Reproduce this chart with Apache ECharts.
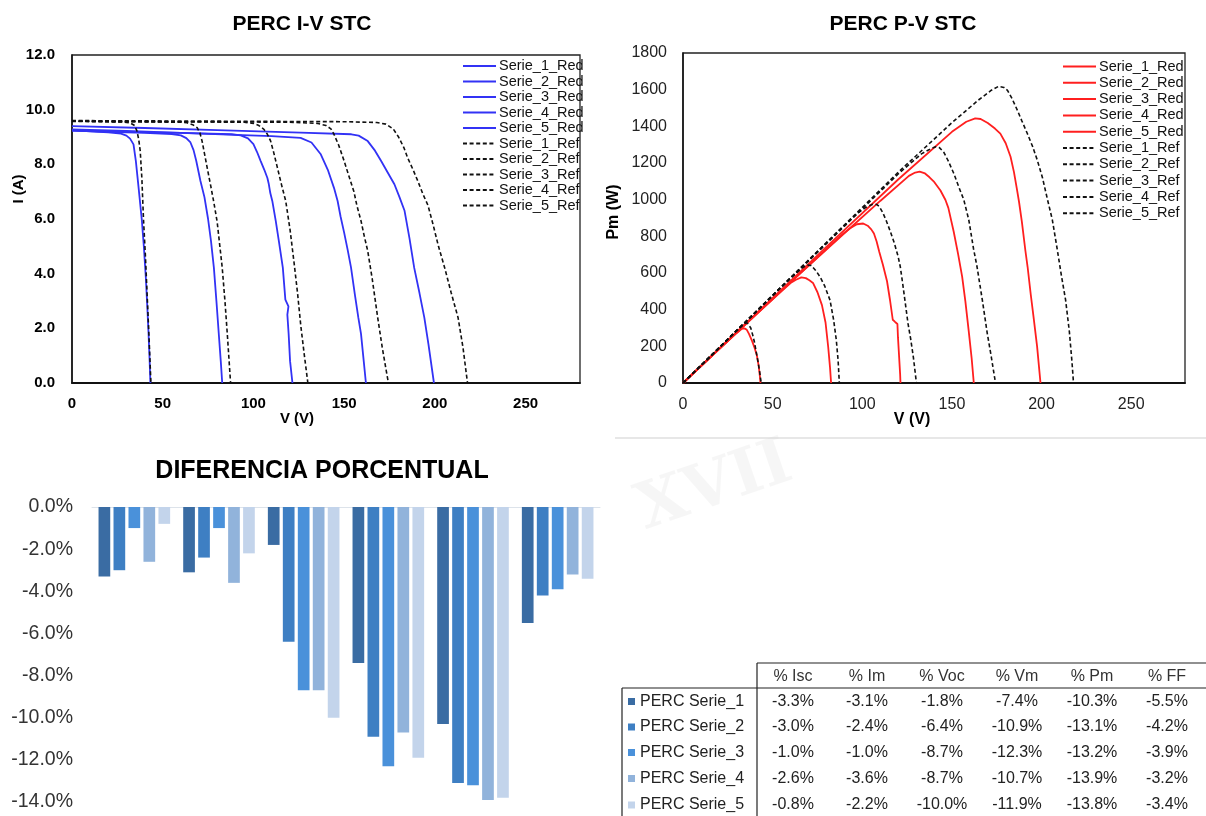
<!DOCTYPE html>
<html>
<head>
<meta charset="utf-8">
<script src="https://cdn.jsdelivr.net/npm/echarts@6/dist/echarts.min.js"></script>
<style>
  html, body { margin: 0; padding: 0; background: #fff; }
  #chart { width: 1206px; height: 816px; }
</style>
</head>
<body>
<div id="chart"></div>
<script>
// ---- I-V curves, points as [voltage (V), current (A)] ----
const ivRed1 = [[0,9.25],[10,9.21],[20,9.17],[27,9.12],[30,9.05],[32,8.94],[33.9,8.73],[35.2,8.12],[36.7,7.15],[38.5,5.95],[39.6,5.0],[40.7,3.85],[41.5,2.8],[42.2,1.8],[42.8,0.8],[43.2,0]];
const ivRed2 = [[0,9.23],[20,9.19],[40,9.15],[55,9.11],[60,9.06],[63,8.96],[65.3,8.8],[67,8.52],[68.5,8.12],[70.8,7.39],[73,6.8],[75,6.0],[76.6,5.2],[78.2,4.22],[79.6,3.0],[80.9,1.8],[82,0.8],[82.8,0]];
const ivRed3 = [[0,9.23],[30,9.19],[60,9.15],[88,9.1],[93,9.06],[97,8.95],[100,8.74],[102,8.45],[104,8.12],[106,7.8],[107.7,7.5],[108.4,7.3],[109.3,6.95],[110.4,6.66],[112.3,5.93],[114,5.2],[116.2,4.22],[117.6,3.05],[119.3,2.8],[118.7,2.5],[119.4,1.8],[120.2,0.8],[121.5,0]];
const ivRed4 = [[0,9.28],[30,9.22],[60,9.15],[90,9.08],[110,9.03],[126,8.97],[132,8.8],[137,8.38],[141,7.8],[144.4,7.14],[146.4,6.66],[148,6.1],[150,5.5],[152,4.85],[153.8,4.22],[156,3.2],[157.8,2.4],[159.3,1.8],[160.8,0.8],[162,0]];
const ivRed5 = [[0,9.4],[40,9.33],[80,9.25],[126,9.16],[154,9.1],[158,9.05],[163,8.85],[167,8.5],[170.4,8.12],[174,7.7],[177.7,7.27],[180.5,6.8],[183.3,6.3],[186,5.3],[188.6,4.22],[191.5,3.3],[194.2,2.39],[196.5,1.4],[199.5,0]];
const ivRef1 = [[0,9.57],[15,9.56],[28,9.55],[32,9.52],[34.5,9.42],[35.8,9.22],[36.8,8.9],[37.6,8.49],[38.5,7.5],[39.4,6.0],[40.5,4.6],[41.5,3.1],[42.5,1.6],[43.5,0]];
const ivRef2 = [[0,9.58],[30,9.56],[60,9.54],[63.4,9.52],[66.5,9.45],[69,9.34],[70.5,9.15],[71.7,8.85],[73,8.4],[74.5,7.88],[76.5,7.2],[78.2,6.6],[80,5.9],[81.5,5.0],[82.8,4.22],[84.3,3.0],[85.6,1.79],[86.6,0.8],[87.4,0]];
const ivRef3 = [[0,9.58],[50,9.56],[95,9.54],[100,9.5],[103,9.42],[105.8,9.28],[107.7,9.1],[109.5,8.85],[111.3,8.4],[113.2,7.88],[115.5,7.25],[117.8,6.66],[120.2,5.6],[122.4,4.4],[124.3,3.3],[126.1,2.1],[128,1.05],[130,0]];
const ivRef4 = [[0,9.58],[60,9.56],[120,9.54],[135,9.5],[140,9.42],[142.7,9.3],[144.4,9.1],[147,8.7],[150,8.12],[152.5,7.6],[155.4,7.0],[157,6.5],[159.3,5.93],[161,5.4],[163,4.83],[165.5,3.8],[168.5,2.39],[171,1.3],[174.4,0]];
const ivRef5 = [[0,9.6],[80,9.58],[150,9.56],[168,9.53],[173,9.47],[177,9.3],[180,9.0],[183,8.6],[185,8.24],[188,7.8],[190.6,7.39],[193.5,6.9],[196.2,6.5],[199,5.8],[202,5.0],[205.4,4.22],[209,3.3],[212.8,2.39],[215.5,1.3],[218,0]];

// ---- P-V curves, points as [voltage (V), power (W)] ----
const pvRed1 = [[0,0],[10,92],[20,184],[30,273],[32.8,295],[34.3,298],[35.6,290],[36.8,268],[38.5,230],[40,190],[41.2,150],[42.2,95],[42.9,35],[43.2,0]];
const pvRed2 = [[0,0],[20,184],[40,366],[55,502],[60,545],[63,563],[66,576],[68.5,572],[70.5,560],[72.5,546],[75,495],[77.5,425],[79.5,330],[81,195],[82,85],[82.6,0]];
const pvRed3 = [[0,0],[30,276],[60,549],[88,803],[93,843],[97,866],[100.5,870],[103,858],[105,838],[106.5,815],[108,772],[109.5,715],[111.5,645],[113.8,555],[115.5,450],[117,345],[118.3,333],[119.6,322],[119.9,250],[120.5,150],[121.1,50],[121.3,0]];
const pvRed4 = [[0,0],[30,277],[60,550],[90,817],[110,993],[126,1130],[129.5,1148],[132,1153],[135,1143],[137.5,1122],[139.8,1100],[143.6,1050],[146.4,998],[148,955],[151,825],[153.5,700],[155.7,580],[157.5,445],[159.4,280],[161,135],[162.2,0]];
const pvRed5 = [[0,0],[40,372],[80,742],[120,1110],[150,1370],[158,1425],[163,1443],[166,1440],[170,1418],[174,1388],[177,1360],[180,1308],[182.7,1234],[184.6,1150],[186.2,1060],[187.4,990],[189,880],[191,720],[192.2,634],[194,480],[195.5,362],[197.5,200],[199.4,0]];
const pvRef1 = [[0,0],[10,96],[20,191],[30,287],[33,314],[34.6,324],[35.8,328],[36.8,322],[37.8,300],[38.8,265],[39.8,225],[40.8,172],[41.8,118],[42.8,58],[43.6,0]];
const pvRef2 = [[0,0],[20,191],[40,382],[60,573],[66.5,628],[69.5,643],[71.5,641],[74,614],[76.5,578],[79,530],[82,452],[84,345],[85.5,235],[86.5,125],[87.2,0]];
const pvRef3 = [[0,0],[30,287],[60,574],[90,860],[97.5,928],[102,958],[105.8,975],[108,974],[109.5,962],[111.3,932],[113.2,890],[115.5,830],[117.8,765],[120,690],[121.2,634],[122.5,545],[124,435],[125.5,325],[127,240],[128.5,140],[130.2,0]];
const pvRef4 = [[0,0],[40,380],[80,760],[120,1140],[133,1250],[138,1277],[141,1288],[143,1284],[145.5,1258],[148,1210],[151,1144],[154,1065],[156.6,1000],[159.4,890],[162,735],[164,634],[167,450],[169.7,271],[172,140],[174.3,0]];
const pvRef5 = [[0,0],[40,383],[80,766],[120,1149],[150,1420],[165,1545],[172,1597],[176,1618],[179,1612],[181,1596],[183.5,1552],[186.4,1490],[189,1430],[192,1362],[195,1290],[197.6,1216],[200.5,1120],[203.2,1005],[206,890],[208.8,725],[211,590],[213.4,453],[215.5,280],[217,110],[217.8,0]];

// ---- Percentage differences (measured vs reference) ----
const diffCategories = ['% Isc', '% Im', '% Voc', '% Vm', '% Pm', '% FF'];
const diffRowNames = ['PERC Serie_1', 'PERC Serie_2', 'PERC Serie_3', 'PERC Serie_4', 'PERC Serie_5'];
const diffSerie1 = [-3.3, -3.1, -1.8, -7.4, -10.3, -5.5];
const diffSerie2 = [-3.0, -2.4, -6.4, -10.9, -13.1, -4.2];
const diffSerie3 = [-1.0, -1.0, -8.7, -12.3, -13.2, -3.9];
const diffSerie4 = [-2.6, -3.6, -8.7, -10.7, -13.9, -3.2];
const diffSerie5 = [-0.8, -2.2, -10.0, -11.9, -13.8, -3.4];

const curveNames = ['Serie_1_Red', 'Serie_2_Red', 'Serie_3_Red', 'Serie_4_Red', 'Serie_5_Red',
                    'Serie_1_Ref', 'Serie_2_Ref', 'Serie_3_Ref', 'Serie_4_Ref', 'Serie_5_Ref'];

const ivCurves = [ivRed1, ivRed2, ivRed3, ivRed4, ivRed5, ivRef1, ivRef2, ivRef3, ivRef4, ivRef5];
const pvCurves = [pvRed1, pvRed2, pvRed3, pvRed4, pvRed5, pvRef1, pvRef2, pvRef3, pvRef4, pvRef5];
const diffRows = [diffSerie1, diffSerie2, diffSerie3, diffSerie4, diffSerie5];

const FONT = 'Liberation Sans, Arial, Helvetica, sans-serif';
const BLUE = '#3232f5';
const RED = '#ff1f1f';
const barColors = ['#3a6ca3', '#3e7fc3', '#4a91da', '#91b3db', '#c3d4eb'];

const chart = echarts.init(document.getElementById('chart'), null, { renderer: 'canvas' });

function curveSeries(prefix, curves, axisIdx, measuredColor) {
  return curves.map((pts, i) => {
    const isRef = i >= 5;
    return {
      name: prefix + curveNames[i],
      type: 'line',
      xAxisIndex: axisIdx,
      yAxisIndex: axisIdx,
      data: pts,
      symbol: 'none',
      showSymbol: false,
      silent: true,
      animation: false,
      lineStyle: isRef
        ? { color: '#111', width: 1.6, type: [4, 2.6] }
        : { color: measuredColor, width: 1.8 },
      itemStyle: { color: isRef ? '#111' : measuredColor },
      z: isRef ? 3 : 2
    };
  });
}

const ivSeries = curveSeries('IV ', ivCurves, 0, BLUE);
const pvSeries = curveSeries('PV ', pvCurves, 1, RED);

const barSeries = diffRows.map((row, i) => ({
  name: diffRowNames[i],
  type: 'bar',
  xAxisIndex: 2,
  yAxisIndex: 2,
  data: row,
  barWidth: 11.7,
  barGap: '28%',
  itemStyle: { color: barColors[i] },
  silent: true,
  animation: false
}));

// ---- Data table under the bar chart ----
const tableGraphics = [];
const colCenters = [793, 867, 942, 1017, 1092, 1167];
const rowYs = [701.5, 727, 752.5, 778.5, 805];
diffCategories.forEach((c, j) => {
  tableGraphics.push({ type: 'text', x: colCenters[j], y: 676.5,
    style: { text: c, font: '16px ' + FONT, fill: '#333', align: 'center', verticalAlign: 'middle' } });
});
diffRows.forEach((row, i) => {
  tableGraphics.push({ type: 'rect', shape: { x: 628, y: rowYs[i] - 3.5, width: 7, height: 7 },
    style: { fill: barColors[i] } });
  tableGraphics.push({ type: 'text', x: 640, y: rowYs[i],
    style: { text: diffRowNames[i], font: '16px ' + FONT, fill: '#222', align: 'left', verticalAlign: 'middle' } });
  row.forEach((v, j) => {
    tableGraphics.push({ type: 'text', x: colCenters[j], y: rowYs[i],
      style: { text: v.toFixed(1) + '%', font: '16px ' + FONT, fill: '#222', align: 'center', verticalAlign: 'middle' } });
  });
});
const tableLine = (x1, y1, x2, y2, color) => ({ type: 'line', shape: { x1, y1, x2, y2 },
  style: { stroke: color || '#222', lineWidth: 1.2 } });
tableGraphics.push(tableLine(757, 663, 1206, 663));
tableGraphics.push(tableLine(622, 688, 1206, 688));
tableGraphics.push(tableLine(757, 663, 757, 816));
tableGraphics.push(tableLine(622, 688, 622, 816));

const textEl = (text, x, y, font, opts) => Object.assign({
  type: 'text', x, y,
  style: { text, font, fill: '#000', align: 'center', verticalAlign: 'middle' }
}, opts || {});

const legendBase = {
  orient: 'vertical', itemWidth: 33, itemHeight: 14, selectedMode: false,
  itemStyle: { opacity: 0, borderWidth: 0 },
  textStyle: { color: '#111', fontSize: 14.5, fontFamily: FONT, padding: [0, 0, 0, -2] }
};

const option = {
  backgroundColor: '#ffffff',
  animation: false,
  grid: [
    { left: 72, top: 55, width: 508, height: 328, show: true, borderColor: '#222', borderWidth: 1.3, backgroundColor: 'transparent' },
    { left: 683, top: 53, width: 502, height: 330, show: true, borderColor: '#222', borderWidth: 1.3, backgroundColor: 'transparent' },
    { left: 92, top: 507, width: 508, height: 295, show: false }
  ],
  xAxis: [
    { gridIndex: 0, type: 'value', min: 0, max: 280, interval: 50,
      axisLine: { show: true, onZero: false, lineStyle: { color: '#111', width: 1.8 } },
      axisTick: { show: false }, splitLine: { show: false },
      axisLabel: { showMaxLabel: false, margin: 13, color: '#000', fontWeight: 'bold', fontSize: 15, fontFamily: FONT } },
    { gridIndex: 1, type: 'value', min: 0, max: 280, interval: 50,
      axisLine: { show: true, onZero: false, lineStyle: { color: '#111', width: 1.8 } },
      axisTick: { show: false }, splitLine: { show: false },
      axisLabel: { showMaxLabel: false, margin: 14, color: '#222', fontSize: 16, fontFamily: FONT } },
    { gridIndex: 2, type: 'category', data: diffCategories,
      axisLine: { show: true, onZero: true, lineStyle: { color: '#dde3ea', width: 1 } },
      axisTick: { show: false }, axisLabel: { show: false }, splitLine: { show: false } }
  ],
  yAxis: [
    { gridIndex: 0, type: 'value', min: 0, max: 12, interval: 2,
      axisLine: { show: true, lineStyle: { color: '#111', width: 1.5 } },
      axisTick: { show: false }, splitLine: { show: false },
      axisLabel: { margin: 17, color: '#000', fontWeight: 'bold', fontSize: 15, fontFamily: FONT,
        formatter: v => v.toFixed(1) } },
    { gridIndex: 1, type: 'value', min: 0, max: 1800, interval: 200,
      axisLine: { show: true, lineStyle: { color: '#111', width: 1.5 } },
      axisTick: { show: false }, splitLine: { show: false },
      axisLabel: { margin: 16, color: '#222', fontSize: 16, fontFamily: FONT,
        formatter: v => String(v) } },
    { gridIndex: 2, type: 'value', min: -14, max: 0, interval: 2,
      axisLine: { show: false }, axisTick: { show: false }, splitLine: { show: false },
      axisLabel: { margin: 19, color: '#333', fontSize: 19.5, fontFamily: FONT,
        formatter: v => (v === 0 ? 0 : v).toFixed(1) + '%' } }
  ],
  legend: [
    Object.assign({}, legendBase, { data: ivSeries.map(s => s.name), left: 457, top: 53.5, itemGap: 0.5,
      formatter: n => n.replace('IV ', '') }),
    Object.assign({}, legendBase, { data: pvSeries.map(s => s.name), left: 1057, top: 54, itemGap: 1.3,
      formatter: n => n.replace('PV ', '') })
  ],
  graphic: [
    // faint seal lettering behind the lower right block
    { type: 'text', x: 715, y: 488, rotation: 0.33, z: -10,
      style: { text: 'XVII', font: 'bold 64px DejaVu Serif, serif', fill: 'rgba(0,0,0,0.035)', align: 'center', verticalAlign: 'middle' } },
    textEl('PERC I-V STC', 302, 24, 'bold 21px ' + FONT),
    textEl('PERC P-V STC', 903, 24, 'bold 21px ' + FONT),
    textEl('DIFERENCIA PORCENTUAL', 322, 471, 'bold 25px ' + FONT),
    textEl('V (V)', 297, 419, 'bold 15px ' + FONT),
    textEl('V (V)', 912, 420, 'bold 16px ' + FONT),
    textEl('I (A)', 19, 189, 'bold 15px ' + FONT, { rotation: Math.PI / 2 }),
    textEl('Pm (W)', 614, 212, 'bold 16px ' + FONT, { rotation: Math.PI / 2 }),
    { type: 'line', shape: { x1: 615, y1: 438, x2: 1206, y2: 438 }, style: { stroke: '#cfcfcf', lineWidth: 1.2 } }
  ].concat(tableGraphics),
  series: ivSeries.concat(pvSeries, barSeries)
};

chart.setOption(option);
</script>
</body>
</html>
